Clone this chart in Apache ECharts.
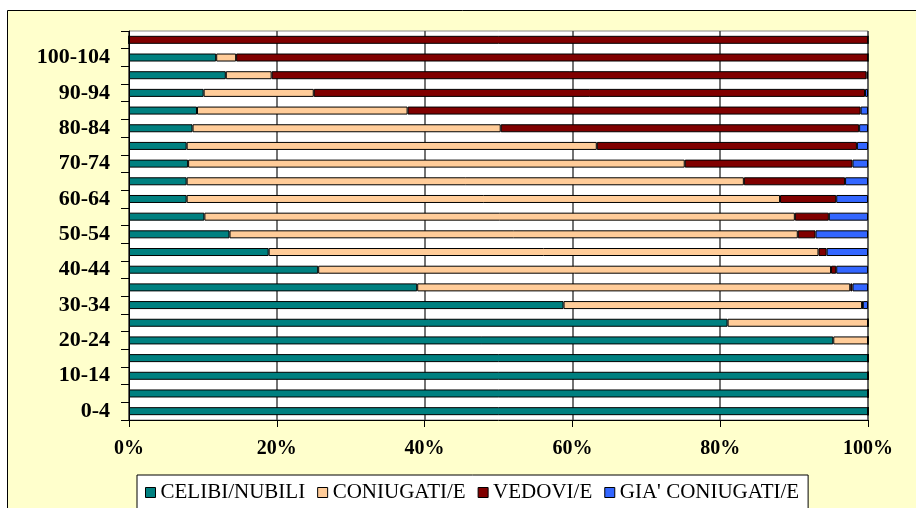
<!DOCTYPE html>
<html>
<head>
<meta charset="utf-8">
<title>Stato civile per classi di età</title>
<script src="https://cdn.jsdelivr.net/npm/echarts@6/dist/echarts.min.js"></script>
<style>
  html, body { margin: 0; padding: 0; background: #ffffff; }
  #chart { width: 916px; height: 508px; }
</style>
</head>
<body>
<div id="chart"></div>
<script>
// classi di età, dal basso verso l'alto
const ageGroups = ['0-4', '5-9', '10-14', '15-19', '20-24', '25-29', '30-34', '35-39', '40-44', '45-49', '50-54',
  '55-59', '60-64', '65-69', '70-74', '75-79', '80-84', '85-89', '90-94', '95-99', '100-104', '105+']

// percentuali
const celibi = [100, 100, 100, 100, 95.3, 81.0, 58.8, 39.0, 25.6, 18.9, 13.6, 10.2, 7.8, 7.8, 8.0, 7.8, 8.6, 9.2, 10.1, 13.1, 11.8, 0]
const coniugati = [0, 0, 0, 0, 4.7, 19.0, 40.4, 58.6, 69.4, 74.4, 76.9, 79.9, 80.3, 75.4, 67.2, 55.5, 41.7, 28.5, 14.9, 6.2, 2.7, 0]
const vedovi = [0, 0, 0, 0, 0, 0, 0.1, 0.3, 0.7, 1.1, 2.4, 4.6, 7.6, 13.7, 22.7, 35.2, 48.5, 61.3, 74.6, 80.5, 85.5, 100]
const giaConiugati = [0, 0, 0, 0, 0, 0, 0.7, 2.1, 4.3, 5.6, 7.1, 5.3, 4.3, 3.1, 2.1, 1.5, 1.2, 1.0, 0.4, 0.2, 0, 0]

const xTicks = [0, 20, 40, 60, 80, 100]

const seriesNames = ['CELIBI/NUBILI', 'CONIUGATI/E', 'VEDOVI/E', "GIA' CONIUGATI/E"]
const seriesColors = ['#008080', '#FFCC99', '#800000', '#3366FF']
const seriesData = [celibi, coniugati, vedovi, giaConiugati]

const chart = echarts.init(document.getElementById('chart'))

const option = {
  backgroundColor: '#ffffff',
  animation: false,
  graphic: [{
    type: 'rect',
    z: -100,
    shape: { x: 7.5, y: 10.5, width: 930, height: 520 },
    style: { fill: '#FFFFCC', stroke: '#000', lineWidth: 1 }
  }],
  grid: {
    left: 129,
    right: 48,
    top: 31,
    bottom: 88,
    show: true,
    backgroundColor: '#ffffff',
    borderColor: '#8a8a8a',
    borderWidth: 1
  },
  legend: {
    left: 137,
    top: 475,
    data: seriesNames,
    itemWidth: 10,
    itemHeight: 10,
    itemGap: 12,
    padding: [7, 9, 30, 8],
    backgroundColor: '#ffffff',
    borderColor: '#000',
    borderWidth: 1,
    borderRadius: 0,
    icon: 'rect',
    itemStyle: { borderColor: '#000', borderWidth: 1 },
    textStyle: {
      fontFamily: 'Liberation Serif',
      fontSize: 21,
      color: '#000'
    }
  },
  xAxis: {
    type: 'value',
    min: xTicks[0],
    max: xTicks[xTicks.length - 1],
    interval: 20,
    axisLine: { show: true, lineStyle: { color: '#000', width: 1 } },
    axisTick: { show: true, length: 7, lineStyle: { color: '#000' } },
    splitLine: { show: true, lineStyle: { color: '#444', width: 1.5 } },
    axisLabel: {
      margin: 19,
      formatter: '{value}%',
      fontFamily: 'Liberation Serif',
      fontWeight: 'bold',
      fontSize: 20,
      color: '#000'
    }
  },
  yAxis: {
    type: 'category',
    data: ageGroups,
    axisLine: { show: true, lineStyle: { color: '#000', width: 1 } },
    axisTick: { show: true, length: 8, interval: 0, lineStyle: { color: '#000' } },
    axisLabel: {
      interval: 1,
      margin: 19,
      fontFamily: 'Liberation Serif',
      fontWeight: 'bold',
      fontSize: 22,
      color: '#000'
    }
  },
  series: seriesNames.map((name, i) => ({
    name: name,
    type: 'bar',
    stack: 'totale',
    barWidth: 8,
    data: seriesData[i],
    itemStyle: {
      color: seriesColors[i],
      borderColor: '#000',
      borderWidth: 1
    }
  }))
}

chart.setOption(option)
</script>
</body>
</html>
